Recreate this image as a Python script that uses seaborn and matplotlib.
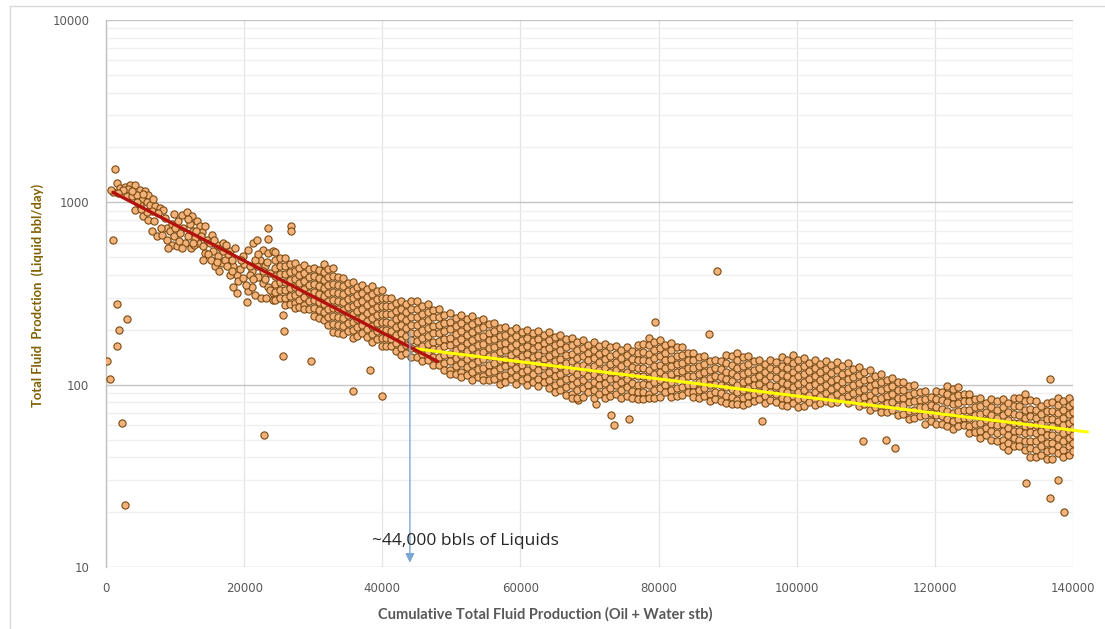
import matplotlib
matplotlib.use("Agg")
import matplotlib.pyplot as plt
from matplotlib.lines import Line2D
from matplotlib.ticker import FixedLocator, NullFormatter
import seaborn as sns
import pandas as pd

# ---------------- data ----------------
x_label = "Cumulative Total Fluid Production (Oil + Water stb)"
y_label = "Total Fluid  Prodction  (Liquid bbl/day)"
annot_label = "~44,000 bbls of Liquids"
annot_x = 44000

x_ticks = [0, 20000, 40000, 60000, 80000, 100000, 120000, 140000]
y_ticks = [10, 100, 1000, 10000]

# early (0 - 24000) points
early_points = [
    (1000, 1140), (1300, 1515), (700, 1170), (1550, 1270), (2030, 1200), (2750, 1220),
    (3475, 1250), (4200, 1250), (4920, 1170), (5650, 1150), (6130, 1100), (2270, 1130),
    (3000, 1080), (3720, 1080), (4440, 1100), (5170, 1030), (5890, 1010), (4200, 910),
    (4920, 970), (6370, 970), (7100, 950), (7820, 930), (8300, 910), (5400, 840),
    (6130, 805), (6620, 695), (7340, 650), (8060, 665), (8790, 625), (9510, 585),
    (10240, 575), (8790, 725), (9510, 760), (10470, 790), (10960, 855), (11690, 890),
    (12410, 840), (13140, 790), (13610, 740), (11190, 725), (11920, 650), (12640, 695),
    (13370, 600), (14090, 575), (14580, 625), (15060, 600), (15540, 540), (16270, 505),
    (16750, 465), (15790, 445), (17230, 485), (17960, 540), (17710, 520), (18440, 445),
    (18920, 400), (18440, 345), (19160, 370), (19880, 385), (20610, 325), (20370, 285),
    (21100, 345), (21580, 310), (19880, 505), (20610, 550), (21330, 600), (21820, 625),
    (22780, 550), (23500, 530), (24230, 540), (22300, 485), (23020, 445), (23750, 410),
    (21820, 445), (22060, 390), (22780, 360), (23500, 345), (24230, 318), (24230, 290),
    (21100, 420), (6600, 900), (7500, 870), (8500, 820), (9200, 700), (9800, 650),
    (10700, 680), (11400, 600), (12100, 760), (12900, 640), (13900, 690), (14400, 530),
    (15300, 660), (16000, 580), (16600, 560), (17000, 600), (17500, 450), (18200, 480),
    (18700, 560), (19400, 430), (20000, 460), (20200, 350), (20800, 400), (21500, 480),
    (22000, 520), (22500, 300), (23000, 380), (23300, 470), (23800, 330), (12300, 560),
    (13000, 700), (14800, 520), (16400, 420), (17900, 400), (19000, 320), (21300, 380),
    (10000, 720), (11000, 560), (12800, 580), (13800, 650), (15200, 480), (9000, 560),
    (8000, 720), (7000, 790), (6000, 880), (5000, 920), (4500, 1000), (3200, 1190),
    (2500, 1170), (1800, 1120), (3800, 1160), (5300, 1110), (6800, 1040),
    (9900, 860), (10600, 610), (11800, 810), (12600, 600), (14300, 740), (15600, 620),
    (16900, 540), (17400, 580), (18300, 420), (19600, 480), (20900, 450), (22700, 420),
    (23200, 300), (14000, 480), (16100, 470),
]

# isolated points away from the band
outlier_points = [
    (150, 134), (580, 108), (970, 620), (1550, 163), (1600, 278), (1840, 200),
    (2270, 62), (2750, 22), (3000, 230), (22900, 53), (23460, 720), (23460, 633),
    (25650, 240), (25600, 143), (25800, 198), (26750, 745), (26750, 700), (29650, 135),
    (35730, 92), (38230, 121), (39930, 87), (68360, 82), (70920, 78), (73100, 68),
    (73570, 60), (75650, 65), (79500, 221), (87280, 190), (88500, 422), (94960, 63),
    (109600, 49), (112960, 50), (114200, 45), (133250, 29), (136600, 108),
    (137770, 30), (136600, 24), (138700, 20),
]

# dense band, by cumulative-production column
band2_x = [24500, 25200, 25900, 26600, 27300, 28000, 28700, 29400, 30100, 30800,
           31500, 32200, 32900, 33600, 34300, 35000, 35700, 36400, 37100, 37800,
           38500, 39200, 39900, 40600, 41300, 42000, 42700, 43400, 44100]
band2_y = [
    (535, 483, 437, 395, 357, 323, 292), (494, 447, 404, 365, 330, 298),
    (495, 448, 405, 366, 331, 299, 272), (461, 417, 376, 340, 307, 278),
    (465, 421, 380, 344, 311, 281, 264), (439, 397, 359, 324, 293, 265),
    (453, 410, 371, 335, 303, 274, 259), (432, 391, 353, 319, 288, 261),
    (436, 394, 356, 322, 291, 263, 238), (428, 387, 349, 316, 285, 258, 233),
    (460, 416, 376, 340, 307, 278, 251, 227), (432, 391, 353, 319, 288, 261, 236, 213),
    (436, 394, 356, 322, 291, 263, 238, 215, 194), (390, 352, 318, 288, 260, 235, 212, 192),
    (386, 349, 316, 285, 258, 233, 211, 190), (361, 326, 295, 267, 241, 218, 197),
    (366, 331, 299, 270, 245, 221, 200, 181), (342, 309, 279, 253, 228, 206, 186),
    (351, 318, 287, 260, 235, 212, 192), (334, 302, 273, 247, 223, 202, 182),
    (347, 313, 283, 256, 231, 209, 189, 171), (328, 296, 268, 242, 219, 198, 179),
    (332, 300, 271, 245, 221, 200, 181, 163), (299, 271, 244, 221, 200, 180, 163),
    (297, 269, 243, 219, 198, 179, 162), (280, 253, 229, 207, 187, 169, 153),
    (289, 261, 236, 213, 193, 175, 158, 146), (276, 249, 225, 204, 184, 166, 150),
    (289, 261, 236, 213, 193, 175, 158, 142),
]

band3_x = [45000, 45800, 46600, 47400, 48200, 49000, 49800, 50600, 51400, 52200,
           53000, 53800, 54600, 55400, 56200, 57000, 57800, 58600, 59400, 60200,
           61000, 61800, 62600, 63400, 64200, 65000, 65800, 66600, 67400, 68200,
           69000, 69800, 70600, 71400, 72200, 73000, 73800, 74600, 75400, 76200]
band3_y = [
    (287, 260, 235, 212, 192, 173, 157, 142), (271, 245, 221, 200, 181, 163, 148, 134),
    (277, 251, 227, 205, 185, 167, 151, 137), (258, 234, 211, 191, 172, 156, 141, 128),
    (259, 234, 212, 192, 173, 157, 141, 128), (242, 219, 198, 179, 162, 146, 132, 120),
    (246, 222, 201, 181, 164, 148, 134, 121, 115), (232, 210, 189, 171, 155, 140, 126, 114),
    (240, 217, 196, 177, 160, 145, 131, 118, 110), (230, 208, 188, 170, 153, 139, 125, 113),
    (238, 215, 194, 175, 159, 144, 130, 117, 106), (223, 202, 182, 165, 149, 135, 122, 110),
    (228, 206, 186, 168, 152, 138, 124, 112, 106), (214, 193, 175, 158, 143, 129, 117, 106),
    (218, 197, 178, 161, 145, 132, 119, 107), (204, 185, 167, 151, 136, 123, 111, 101),
    (208, 188, 170, 154, 139, 126, 113, 103), (198, 179, 161, 146, 132, 119, 108),
    (204, 184, 167, 151, 136, 123, 111, 101), (194, 175, 158, 143, 129, 117, 106),
    (200, 181, 163, 148, 134, 121, 109, 99), (191, 173, 156, 141, 127, 115, 104),
    (198, 179, 162, 146, 132, 120, 108, 98), (188, 170, 154, 139, 126, 113, 103),
    (194, 175, 159, 143, 130, 117, 106, 96), (183, 166, 150, 135, 122, 111, 100, 91),
    (188, 170, 154, 139, 126, 114, 103, 93), (178, 161, 145, 131, 119, 107, 97, 88),
    (181, 164, 148, 134, 121, 109, 99, 89, 85), (171, 155, 140, 126, 114, 103, 93, 84),
    (175, 158, 143, 129, 117, 106, 96, 86), (166, 150, 136, 123, 111, 100, 91),
    (171, 155, 140, 126, 114, 103, 93, 85), (163, 148, 133, 121, 109, 99, 89),
    (168, 152, 138, 124, 112, 102, 92, 85), (160, 144, 130, 118, 107, 96, 87),
    (163, 148, 133, 121, 109, 99, 89), (155, 140, 126, 114, 103, 93, 85),
    (160, 145, 131, 118, 107, 97, 87), (153, 138, 125, 113, 102, 92, 84),
]

band4_x = [77000, 77800, 78600, 79400, 80200, 81000, 81800, 82600, 83400, 84200,
           85000, 85800, 86600, 87400, 88200, 89000, 89800, 90600, 91400, 92200,
           93000, 93800, 94600, 95400, 96200, 97000, 97800, 98600, 99400, 100200,
           101000, 101800, 102600, 103400, 104200, 105000, 105800, 106600, 107400]
band4_y = [
    (166, 150, 136, 123, 111, 100, 91, 83), (167, 151, 137, 124, 112, 101, 91, 83),
    (181, 164, 148, 134, 121, 109, 99, 89, 84), (171, 155, 140, 126, 114, 103, 93, 84),
    (175, 158, 143, 129, 117, 106, 96, 86), (166, 150, 136, 123, 111, 100, 91),
    (170, 154, 139, 126, 114, 103, 93, 86), (160, 144, 130, 118, 107, 96, 87),
    (161, 146, 132, 119, 108, 97, 88), (150, 136, 123, 111, 100, 91),
    (150, 136, 123, 111, 100, 91, 86), (141, 127, 115, 104, 94, 85),
    (144, 130, 117, 106, 96, 87), (134, 121, 109, 99, 89, 81),
    (137, 124, 112, 101, 91, 83), (135, 122, 110, 100, 90, 81),
    (145, 131, 118, 107, 97, 87, 79), (143, 129, 116, 105, 95, 86, 78),
    (150, 136, 123, 111, 100, 91, 82, 78), (141, 127, 115, 104, 94, 85, 77),
    (144, 130, 117, 106, 96, 87, 79), (134, 121, 109, 99, 89, 81),
    (137, 124, 112, 101, 91, 83), (130, 118, 106, 96, 87, 79),
    (136, 123, 111, 100, 91, 82), (133, 120, 109, 98, 89, 80),
    (141, 127, 115, 104, 94, 85, 77), (137, 124, 112, 101, 91, 83, 76),
    (145, 131, 118, 107, 97, 87, 79), (137, 124, 112, 101, 91, 83, 75),
    (140, 126, 114, 103, 93, 84, 76), (132, 119, 108, 98, 88, 80),
    (137, 124, 112, 101, 91, 83, 77), (130, 118, 106, 96, 87, 79),
    (135, 122, 110, 99, 90, 81), (128, 116, 105, 95, 86, 79),
    (133, 120, 108, 98, 89, 80), (126, 114, 103, 93, 84),
    (131, 118, 107, 96, 87, 79),
]

band5_x = [108200, 109000, 109800, 110600, 111400, 112200, 113000, 113800, 114600,
           115400, 116200, 117000, 117800, 118600, 119400, 120200, 121000, 121800,
           122600, 123400, 124200, 125000, 125800, 126600, 127400, 128200, 129000,
           129800, 130600, 131400, 132200, 133000, 133800, 134600, 135400, 136200,
           137000, 137800, 138600, 139400, 140000]
band5_y = [
    (122, 110, 99, 90, 81), (125, 113, 102, 92, 83, 76), (117, 106, 95, 86, 78),
    (120, 108, 98, 88, 80, 73), (112, 101, 92, 83, 75), (114, 103, 93, 84, 76, 71),
    (106, 96, 87, 79, 71), (109, 98, 89, 80, 73), (103, 93, 84, 76, 68),
    (104, 94, 85, 77, 69), (98, 88, 80, 72, 65), (99, 90, 81, 73, 66),
    (91, 82, 75, 67), (92, 83, 75, 68, 61), (86, 77, 70, 63),
    (92, 83, 75, 68, 61), (91, 82, 74, 67, 61), (98, 89, 80, 72, 65, 59),
    (95, 86, 78, 70, 63, 57), (97, 88, 79, 72, 65, 59), (89, 81, 73, 66, 60),
    (89, 81, 73, 66, 59, 54), (83, 75, 68, 61, 55), (84, 76, 69, 62, 56, 51),
    (79, 71, 64, 58, 53), (83, 75, 68, 61, 56, 50), (81, 73, 66, 60, 54, 49),
    (83, 75, 68, 61, 56, 50, 46), (79, 71, 64, 58, 53, 48, 44),
    (84, 76, 69, 62, 56, 51, 46), (84, 76, 68, 62, 56, 50, 46),
    (89, 81, 73, 66, 59, 54, 49, 44), (82, 74, 67, 60, 55, 49, 45, 40),
    (81, 73, 66, 60, 54, 49, 44, 40), (76, 69, 62, 56, 51, 46, 41),
    (79, 72, 65, 58, 53, 48, 43, 39), (80, 72, 65, 59, 53, 48, 44, 39),
    (85, 77, 70, 63, 57, 51, 46, 42), (81, 73, 66, 60, 54, 49, 44, 40),
    (84, 76, 69, 62, 56, 51, 46, 41), (79, 71, 64, 58, 53, 48, 43),
]

# exponential trend lines (straight on the log axis)
red_x = [1000, 48000]
red_y = [1135, 134]
yellow_x = [45000, 142100]
yellow_y = [157, 55]

# ---------------- assemble ----------------
xs, ys = [], []
for px, py in early_points + outlier_points:
    xs.append(px)
    ys.append(py)
for cols, vals in ((band2_x, band2_y), (band3_x, band3_y),
                   (band4_x, band4_y), (band5_x, band5_y)):
    for c, v in zip(cols, vals):
        for val in v:
            xs.append(c)
            ys.append(val)
df = pd.DataFrame({"cum": xs, "rate": ys})

# ---------------- figure ----------------
sns.set_theme(style="white")
plt.rcParams["font.family"] = ["DejaVu Sans"]

W, H = 1105, 629
fig = plt.figure(figsize=(W / 100, H / 100), dpi=100)
fig.patch.set_facecolor("white")
ax = fig.add_axes([106 / W, 1 - 567 / H, (1073 - 106) / W, (567 - 20) / H])
ax.set_facecolor("white")

ax.set_yscale("log")
ax.set_xlim(0, 140000)
ax.set_ylim(10, 10000)

ax.xaxis.set_major_locator(FixedLocator(x_ticks))
ax.yaxis.set_major_locator(FixedLocator(y_ticks))
ax.set_xticklabels([str(t) for t in x_ticks])
ax.set_yticklabels([str(t) for t in y_ticks])
minor = [m * d for d in (10, 100, 1000) for m in range(2, 10)]
ax.yaxis.set_minor_locator(FixedLocator(minor))
ax.yaxis.set_minor_formatter(NullFormatter())

ax.grid(which="major", axis="y", color="#c4c4c4", lw=1.0)
ax.grid(which="minor", axis="y", color="#efefef", lw=0.9)
ax.grid(which="major", axis="x", color="#e3e3e3", lw=0.9)
ax.set_axisbelow(True)

for s in ("top", "right", "bottom"):
    ax.spines[s].set_visible(False)
ax.spines["left"].set_color("#bfbfbf")
ax.spines["left"].set_linewidth(1.0)

ax.tick_params(axis="both", which="both", length=0, colors="#595959", labelsize=8.5)
ax.tick_params(axis="y", pad=12)
ax.tick_params(axis="x", pad=11)

sns.scatterplot(data=df, x="cum", y="rate", ax=ax, s=27, color="#F3B27A",
                edgecolor="#7A4A12", linewidth=0.8, zorder=3, legend=False)

sns.lineplot(x=yellow_x, y=yellow_y, ax=ax, color="#FFFF00", lw=2.2,
             zorder=4, estimator=None, clip_on=False)
sns.lineplot(x=red_x, y=red_y, ax=ax, color="#B3120F", lw=2.4,
             zorder=5, estimator=None)

ax.annotate("", xy=(annot_x, 10.55), xytext=(annot_x, 193),
            arrowprops=dict(arrowstyle="-|>,head_length=0.45,head_width=0.22",
                            color="#7BA7D6", lw=1.0, shrinkA=0, shrinkB=0),
            zorder=6)
ax.text(38500, 13.9, annot_label, fontsize=12.5, family=["Open Sans", "DejaVu Sans"],
        color="#262626", ha="left", va="center", zorder=6)

ax.set_xlabel("")
ax.set_ylabel("")
fig.text(545 / W, 1 - 614 / H, x_label, ha="center", va="center", fontsize=10.5,
         fontweight="bold", color="#595959", family=["Lato", "DejaVu Sans"])
fig.text(38 / W, 1 - 295 / H, y_label, ha="center", va="center", rotation=90,
         fontsize=9.4, fontweight="bold", color="#7F6000",
         family=["Lato", "DejaVu Sans"])

# outer chart frame (left and top edges visible)
fig.add_artist(Line2D([10 / W, 10 / W], [0, 1 - 6 / H], color="#d9d9d9", lw=1.0))
fig.add_artist(Line2D([10 / W, 1], [1 - 6 / H, 1 - 6 / H], color="#d9d9d9", lw=1.0))

fig.savefig("out.png", dpi=100, facecolor="white")
